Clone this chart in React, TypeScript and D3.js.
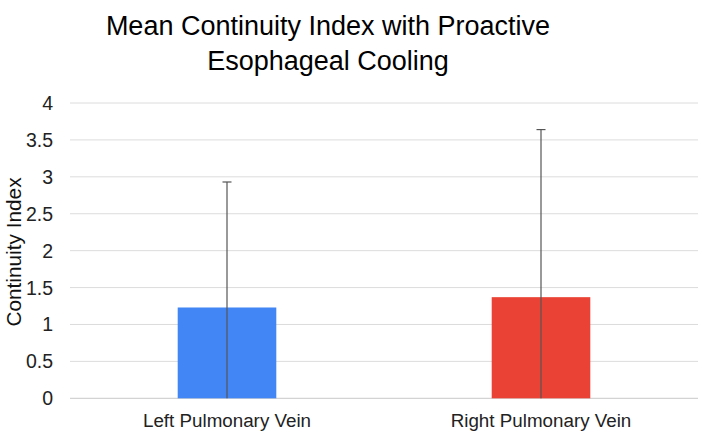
import React, { useEffect, useRef } from 'react';
import * as d3 from 'd3';

// Chart data
const categories = ['Left Pulmonary Vein', 'Right Pulmonary Vein'];
const means = [1.23, 1.37];
const errors = [1.70, 2.27];
const barColors = ['#4285f4', '#ea4335'];
const yTicks = [0, 0.5, 1, 1.5, 2, 2.5, 3, 3.5, 4];
const titleLines = ['Mean Continuity Index with Proactive', 'Esophageal Cooling'];
const yLabel = 'Continuity Index';

const App: React.FC = () => {
    const ref = useRef<SVGSVGElement>(null);

    useEffect(() => {
        const svg = d3.select(ref.current);
        svg.selectAll('*').remove();

        const width = 702;
        const height = 448;
        const marginLeft = 70;
        const marginRight = 4;
        const marginTop = 103;
        const marginBottom = 50;
        const font = "'Liberation Sans', Arial, Helvetica, sans-serif";

        svg.attr('viewBox', [0, 0, width, height])
            .style('font-family', font);

        svg.append('rect')
            .attr('width', width)
            .attr('height', height)
            .attr('fill', '#fff');

        const x = d3.scaleBand()
            .domain(categories)
            .range([marginLeft, width - marginRight])
            .padding(0);

        const y = d3.scaleLinear()
            .domain([0, 4])
            .range([height - marginBottom + 0.3, marginTop]);

        // Gridlines
        svg.append('g')
            .selectAll('line')
            .data(yTicks)
            .join('line')
            .attr('x1', marginLeft)
            .attr('x2', width - marginRight)
            .attr('y1', d => y(d))
            .attr('y2', d => y(d))
            .attr('stroke', d => d === 0 ? '#c8c8c8' : '#dcdcdc')
            .attr('stroke-width', 1);

        // Y tick labels
        svg.append('g')
            .selectAll('text')
            .data(yTicks)
            .join('text')
            .attr('x', 53)
            .attr('y', d => y(d))
            .attr('dy', '0.36em')
            .attr('text-anchor', 'end')
            .attr('font-size', 19.5)
            .attr('fill', '#222')
            .text(d => String(d));

        // Bars
        const barFrac = 0.314;
        const barW = x.bandwidth() * barFrac;
        const cx = (c: string) => (x(c) as number) + x.bandwidth() / 2;

        svg.append('g')
            .selectAll('rect')
            .data(categories)
            .join('rect')
            .attr('x', d => cx(d) - barW / 2)
            .attr('width', barW)
            .attr('y', (d, i) => y(means[i]))
            .attr('height', (d, i) => y(0) - y(means[i]))
            .attr('fill', (d, i) => barColors[i]);

        // Error bars
        const errG = svg.append('g')
            .attr('stroke', '#555')
            .attr('stroke-width', 1.2);
        categories.forEach((c, i) => {
            const top = y(means[i] + errors[i]);
            const bottom = y(Math.max(0, means[i] - errors[i]));
            errG.append('line')
                .attr('x1', cx(c)).attr('x2', cx(c))
                .attr('y1', top).attr('y2', bottom);
            errG.append('line')
                .attr('x1', cx(c) - 4.5).attr('x2', cx(c) + 4.5)
                .attr('y1', top).attr('y2', top);
        });

        // Category labels
        svg.append('g')
            .selectAll('text')
            .data(categories)
            .join('text')
            .attr('x', d => cx(d))
            .attr('y', 427)
            .attr('text-anchor', 'middle')
            .attr('font-size', 18.8)
            .attr('fill', '#222')
            .text(d => d);

        // Y axis title
        svg.append('text')
            .attr('transform', `translate(21, 252) rotate(-90)`)
            .attr('text-anchor', 'middle')
            .attr('font-size', 20.8)
            .attr('fill', '#111')
            .text(yLabel);

        // Title
        svg.append('g')
            .selectAll('text')
            .data(titleLines)
            .join('text')
            .attr('x', 328)
            .attr('y', (d, i) => 35 + i * 35)
            .attr('text-anchor', 'middle')
            .attr('font-size', 27)
            .attr('fill', '#000')
            .text(d => d);
    }, []);

    return (
        <svg ref={ref} width={702} height={448}
            style={{ position: 'absolute', left: 0, top: 0 }} />
    );
};

export default App;
